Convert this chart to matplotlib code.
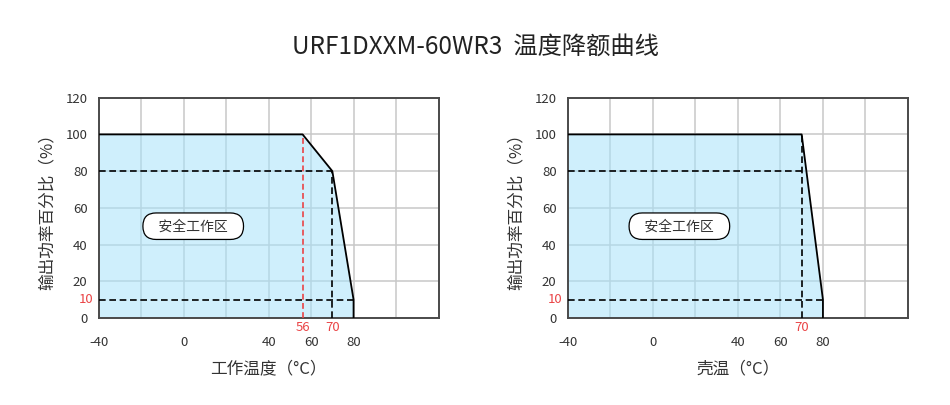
import numpy as np
import matplotlib
matplotlib.use("Agg")
import matplotlib.pyplot as plt

plt.rcParams["font.family"] = ["Noto Sans CJK SC", "DejaVu Sans"]

### Data
title = "URF1DXXM-60WR3  温度降额曲线"
y_label = "输出功率百分比（%）"
x_label_a = "工作温度（°C）"
x_label_b = "壳温（°C）"
zone_label = "安全工作区"

# derating curve: ambient temperature
temp_a = [-40, 56, 70, 80, 80]
load_a = [100, 100, 80, 10, 0]
# derating curve: case temperature
temp_b = [-40, 70, 80, 80]
load_b = [100, 100, 10, 0]

x_major = [-40, 0, 40, 60, 80]
x_major_labels = ["-40", "0", "40", "60", "80"]
x_minor = [-20, 20, 100]
y_ticks = [0, 20, 40, 60, 80, 100, 120]

# the x axis is not linear: each grid cell is a different span
scale_temps = [-40, 0, 40, 60, 80, 120]
scale_cells = [0, 2, 4, 5, 6, 8]


def fwd(t):
    return np.interp(t, scale_temps, scale_cells)


def inv(p):
    return np.interp(p, scale_cells, scale_temps)


red = "#ea4446"
fill_col = (0.66, 0.89, 0.985)
grid_col = "#c8c8c8"
text_col = "#333333"

fig = plt.figure(figsize=(9.5, 4.05), dpi=100)
ax_a = fig.add_axes([0.1039, 0.2148, 0.3577, 0.544])
ax_b = fig.add_axes([0.5976, 0.2148, 0.3582, 0.544])


def base_axes(ax, temps, loads, x_label, box_x):
    ax.set_xscale("function", functions=(fwd, inv))
    ax.set_xlim(-40, 120)
    ax.set_ylim(0, 120)
    ax.set_xticks(x_major)
    ax.set_xticklabels(x_major_labels)
    ax.set_xticks(x_minor, minor=True)
    ax.set_yticks(y_ticks)
    ax.tick_params(axis="both", which="both", length=0, labelsize=9.5, colors=text_col)
    ax.tick_params(axis="x", pad=13)
    ax.tick_params(axis="y", pad=8)
    ax.grid(True, which="both", color=grid_col, lw=1.1)
    ax.set_axisbelow(True)
    for s in ax.spines.values():
        s.set_color("#4a4a4a")
        s.set_linewidth(1.4)

    ax.fill_between(temps, loads, 0, color=fill_col, alpha=0.55, lw=0, zorder=1)
    ax.plot(temps, loads, color="black", lw=1.3, zorder=4)

    ax.set_ylabel(y_label, fontsize=12, color=text_col, labelpad=7)
    ax.set_xlabel(x_label, fontsize=12, color=text_col, labelpad=8)

    ax.text(box_x, 50, "   " + zone_label + "   ", fontsize=10, color=text_col,
            ha="center", va="center", zorder=5,
            bbox=dict(boxstyle="round,pad=0.45,rounding_size=0.95",
                      fc="white", ec="black", lw=0.9))

    # red reference label at 10 %
    ax.annotate("10", xy=(-40, 10), xytext=(-4, 0), textcoords="offset points",
                color=red, fontsize=9.5, ha="right", va="center",
                annotation_clip=False)


dash = dict(color="black", lw=1.2, dashes=(4, 2.2), zorder=3)

### Chart A: ambient temperature
base_axes(ax_a, temp_a, load_a, x_label_a, 4.5)
ax_a.plot([temp_a[0], temp_a[2]], [load_a[2], load_a[2]], **dash)
ax_a.plot([temp_a[2], temp_a[2]], [0, load_a[2]], **dash)
ax_a.plot([temp_a[0], temp_a[3]], [load_a[3], load_a[3]], **dash)
ax_a.plot([temp_a[1], temp_a[1]], [0, load_a[1]], color=red, lw=1.2,
          dashes=(3.5, 2), zorder=3)
for t in [temp_a[1], temp_a[2]]:
    ax_a.text(t, -1.5, str(t), color=red, fontsize=9.5, ha="center", va="top")

### Chart B: case temperature
base_axes(ax_b, temp_b, load_b, x_label_b, 12.5)
ax_b.plot([temp_b[0], temp_b[1]], [80, 80], **dash)
ax_b.plot([temp_b[1], temp_b[1]], [0, load_b[1]], **dash)
ax_b.plot([temp_b[0], temp_b[2]], [load_b[2], load_b[2]], **dash)
ax_b.text(temp_b[1], -1.5, str(temp_b[1]), color=red, fontsize=9.5,
          ha="center", va="top")

fig.text(0.5, 0.884, title, fontsize=17.5, color="#222222", ha="center", va="center")

fig.savefig("out.png", dpi=100)
